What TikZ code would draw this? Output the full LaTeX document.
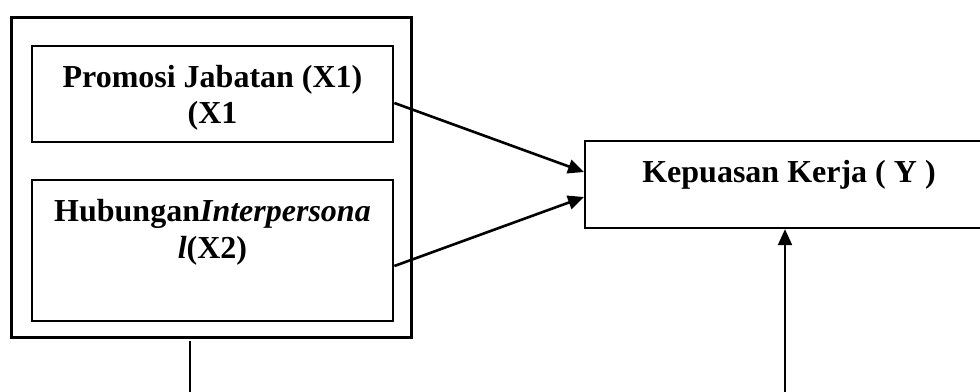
\documentclass[tikz,border=0pt]{standalone}
\usepackage{fontspec}
\setmainfont{Liberation Serif}
\usetikzlibrary{arrows.meta}

\tikzset{
  framebox/.style={draw=black, line width=3pt, rectangle, inner sep=0pt},
  varbox/.style={draw=black, line width=2.8pt, rectangle, inner sep=0pt},
  ybox/.style={draw=black, line width=2.3pt, rectangle, inner sep=0pt},
  label/.style={font=\fontsize{32pt}{36pt}\selectfont\bfseries, inner sep=0pt, anchor=base},
  arr/.style={line width=2.6pt, -{Triangle[length=16pt,width=14pt]}},
  plain/.style={line width=2pt}
}

\begin{document}
\begin{tikzpicture}[x=1pt, y=-1pt]
  \clip (0,0) rectangle (980,391);

  % outer frame holding the two independent variables
  \node[framebox, minimum width=400pt, minimum height=320pt] (frame) at (211,177) {};

  % independent variables
  \node[varbox, minimum width=361pt, minimum height=96pt] (x1) at (212.5,94) {};
  \node[varbox, minimum width=361pt, minimum height=141pt] (x2) at (212.5,250.5) {};

  % dependent variable (box runs past the right edge)
  \node[ybox, minimum width=420pt, minimum height=87pt, anchor=west] (y) at (584,184.5) {};

  % texts
  \node[label] (x1a) at (212.5,87) {Promosi Jabatan (X1)};
  \node[label] (x1b) at (212.5,123) {(X1};
  \node[label] (x2a) at (212.5,221) {Hubungan\textit{Interpersona}};
  \node[label] (x2b) at (212.5,258) {\textit{l}(X2)};
  \node[label] (yt) at (789,182) {Kepuasan Kerja ( Y )};

  % connectors
  \draw[arr] ([yshift=-9pt]x1.east) -- ([yshift=12.5pt]y.west);
  \draw[arr] ([yshift=-15.5pt]x2.east) -- ([yshift=-12.5pt]y.west);

  \coordinate (ybot) at (785,395);
  \draw[arr, line width=2pt] (ybot) -- (y.south -| ybot);

  \coordinate (ftop) at (190,341);
  \coordinate (fbot) at (190,395);
  \draw[plain] (ftop) -- (fbot);
\end{tikzpicture}
\end{document}
